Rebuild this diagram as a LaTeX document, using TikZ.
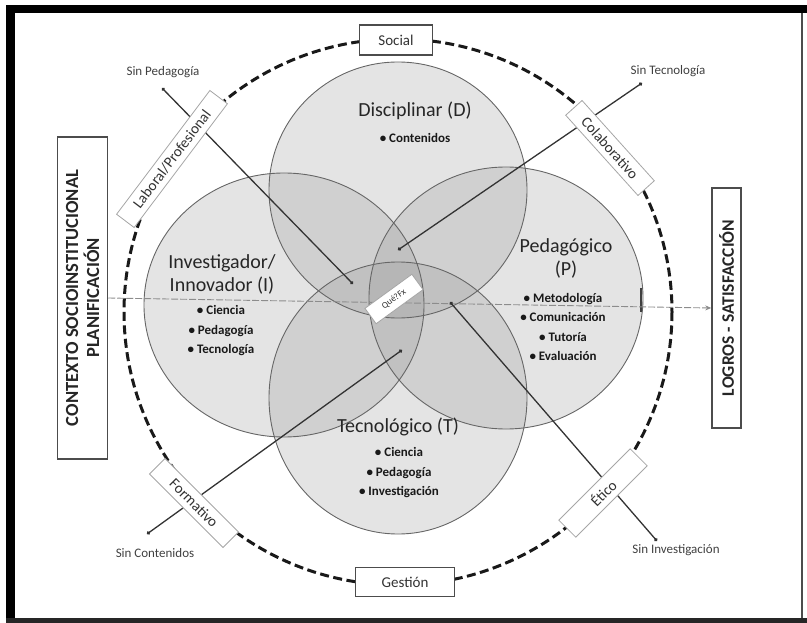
\documentclass[tikz,border=0pt]{standalone}
\usepackage{fontspec}
\setmainfont{Carlito}
\usetikzlibrary{arrows.meta}
\definecolor{vinner}{gray}{0.58}
\definecolor{vouter}{gray}{0.15}
\pgfdeclareradialshading{vennball}{\pgfpoint{0bp}{0bp}}{color(0bp)=(vinner); color(28bp)=(vinner); color(50bp)=(vouter)}
\begin{document}
\begin{tikzpicture}[x=1pt,y=-1pt,
  every node/.style={inner sep=0pt},
  vennfill/.style={shading=vennball, fill opacity=0.25},
  vennline/.style={draw=black!60, line width=0.9pt},
  titletxt/.style={font=\fontsize{20}{23}\selectfont, align=center, text=black!85},
  bultxt/.style={font=\bfseries\fontsize{13}{19.5}\selectfont, align=center, text=black!90},
  lbl/.style={font=\fontsize{13}{15}\selectfont, text=black!75},
  sbox/.style={draw=black!70, line width=1.2pt, fill=white, font=\fontsize{15}{17}\selectfont, text=black!80},
  rbox/.style={draw=black!35, line width=0.8pt, fill=white, font=\fontsize{15}{17}\selectfont, text=black!80},
  sidebox/.style={draw=black!70, line width=1.5pt, fill=white, font=\bfseries\fontsize{18.5}{21}\selectfont, align=center, text=black!85},
  outerring/.style={line width=3pt, dash pattern=on 9pt off 4.5pt, black!90},
  hline/.style={draw=black!45, line width=0.9pt, dash pattern=on 7pt off 2pt, -{Stealth[length=6pt,width=5pt]}},
  conn/.style={line width=1.3pt, black!80, {Circle[length=3.5pt]}-{Circle[length=3.5pt]}}
]
\useasboundingbox (0,0) rectangle (807,623);
% frame
\fill[black] (6,5) rectangle (807,13);
\fill[black] (6,5) rectangle (15,623);
\fill[black!85] (6,618) rectangle (807,623);
\draw[black!70, line width=1.5pt] (802,13) -- (802,618);

% Venn circles
\shade[vennfill] (398,190) ellipse [x radius=129, y radius=128];
\shade[vennfill] (284,305) ellipse [x radius=140, y radius=132];
\shade[vennfill] (506,298) ellipse [x radius=137, y radius=131];
\shade[vennfill] (398,398) ellipse [x radius=129, y radius=136];
\draw[vennline] (398,190) ellipse [x radius=129, y radius=128];
\draw[vennline] (284,305) ellipse [x radius=140, y radius=132];
\draw[vennline] (506,298) ellipse [x radius=137, y radius=131];
\draw[vennline] (398,398) ellipse [x radius=129, y radius=136];
\draw[line width=2.5pt, black!75] (641,288) -- (641,312);

% outer dashed ring
\draw[outerring] (398,312) ellipse [x radius=274, y radius=273];

% side boxes
\node[sidebox, rotate=90, minimum width=322pt, minimum height=50pt] (ctx) at (82.5,298) {CONTEXTO SOCIOINSTITUCIONAL\\PLANIFICACIÓN};
\node[sidebox, rotate=90, minimum width=240pt, minimum height=29pt, font=\bfseries\fontsize{17.5}{20}\selectfont] (log) at (726.5,308) {LOGROS - SATISFACCIÓN};
\draw[hline] (ctx.south) -- (log.north);

% circle texts
\node[titletxt] (dt) at (415,111) {Disciplinar (D)};
\node[bultxt] (db) at (415,138) {• Contenidos};
\node[titletxt] (it) at (222,274) {Investigador/\\Innovador (I)};
\node[bultxt] (ib) at (221,331) {• Ciencia\\• Pedagogía\\• Tecnología};
\node[titletxt] (pt) at (566,258) {Pedagógico\\(P)};
\node[bultxt] (pb) at (563,327) {• Metodología\\• Comunicación\\• Tutoría\\• Evaluación};
\node[titletxt] (tt) at (398,427) {Tecnológico (T)};
\node[bultxt] (tb) at (399,473) {• Ciencia\\• Pedagogía\\• Investigación};

% connectors
\coordinate (p1) at (162,88);  \coordinate (q1) at (353,284);
\coordinate (p2) at (642,83);  \coordinate (q2) at (398,250);
\coordinate (p3) at (147,534); \coordinate (q3) at (402,350);
\coordinate (p4) at (657,541); \coordinate (q4) at (450,302);
\draw[conn] (p1) -- (q1);
\draw[conn] (p2) -- (q2);
\draw[conn] (p3) -- (q3);
\draw[conn] (p4) -- (q4);

% ring boxes
\node[sbox, minimum width=73pt, minimum height=30pt] (soc) at (396,40) {Social};
\node[sbox, minimum width=99pt, minimum height=29pt] (ges) at (405,582) {Gestión};
\node[rbox, rotate=53, minimum width=155pt, minimum height=22pt] (lab) at (172,159) {Laboral/Profesional};
\node[rbox, rotate=-48, minimum width=108pt, minimum height=22pt] (col) at (610,148) {Colaborativo};
\node[rbox, rotate=-45, minimum width=104pt, minimum height=22pt] (for) at (194,503) {Formativo};
\node[rbox, rotate=45, minimum width=101pt, minimum height=24pt] (eti) at (603,493) {Ético};
\node[rbox, rotate=36, minimum width=58pt, minimum height=19pt, font=\fontsize{9}{10}\selectfont] (cen) at (394,299) {Qué?Fx};

% labels
\node[lbl] (l1) at (163,72) {Sin Pedagogía};
\node[lbl] (l2) at (668,71) {Sin Tecnología};
\node[lbl] (l3) at (155,553) {Sin Contenidos};
\node[lbl] (l4) at (676,550) {Sin Investigación};
\end{tikzpicture}
\end{document}
